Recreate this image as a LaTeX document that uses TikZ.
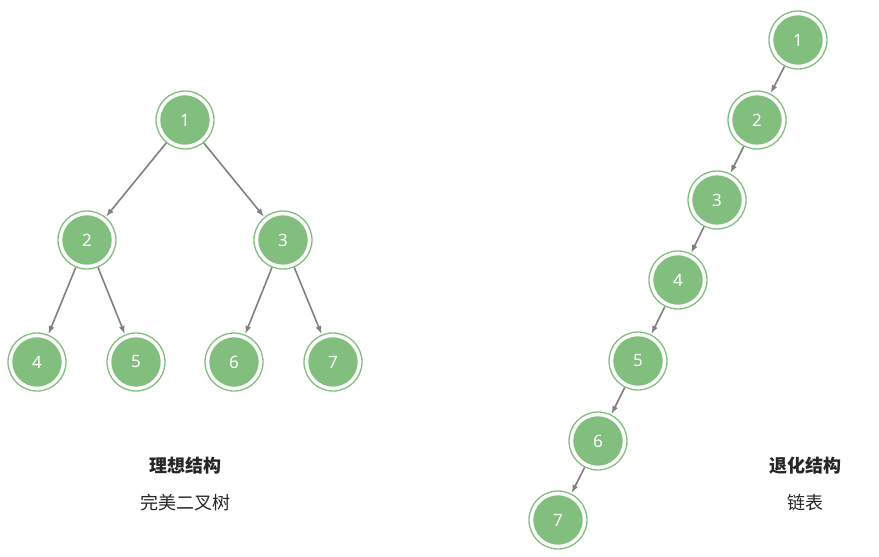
\documentclass[tikz,border=0pt]{standalone}
\usepackage{fontspec}
\setmainfont{Noto Sans}
\newfontfamily\cjk{Noto Sans CJK SC}
\definecolor{treegreen}{HTML}{82BE7E}
\definecolor{edgegray}{HTML}{808080}
\begin{document}
\begin{tikzpicture}[
        x=1pt, y=-1pt,
        treenode/.style={circle, fill=treegreen, draw=white, line width=2.5pt,
            minimum size=52pt, inner sep=0pt, text=white, font=\fontsize{17}{17}\selectfont},
        ring/.style={circle, draw=treegreen, line width=1.3pt, minimum size=58pt, inner sep=0pt},
        edge/.style={->, >=latex, draw=edgegray, line width=1.6pt, shorten >=1pt},
        caption/.style={font=\cjk\fontsize{18}{18}\selectfont, text=black!85}]
        \useasboundingbox (0,0) rectangle (879,557);
        % NODES
        % perfect binary tree
        \foreach \name/\px/\py in {a1/185/120, a2/87/240, a3/283/240, a4/37/362,
                a5/136/362, a6/234/362, a7/333/362,
                b1/798/40, b2/757/120, b3/717/200, b4/678/280,
                b5/638/361, b6/598/441, b7/558/520} {
            \node[ring] (\name) at (\px,\py) {};
        }
        \foreach \i in {1,...,7} {
            \node[treenode] at (a\i) {\i};
            \node[treenode] at (b\i) {\i};
        }
        % caption nodes
        \node[caption, font=\cjk\bfseries\fontsize{18}{18}\selectfont] (capA) at (185,466) {理想结构};
        \node[caption] (subA) at (185,503) {完美二叉树};
        \node[caption, font=\cjk\bfseries\fontsize{18}{18}\selectfont] (capB) at (805,466) {退化结构};
        \node[caption] (subB) at (805,503) {链表};
        % ARROWS
        \draw[edge] (a1)--(a2);
        \draw[edge] (a1)--(a3);
        \draw[edge] (a2)--(a4);
        \draw[edge] (a2)--(a5);
        \draw[edge] (a3)--(a6);
        \draw[edge] (a3)--(a7);
        \foreach \i/\j in {1/2,2/3,3/4,4/5,5/6,6/7}
            \draw[edge] (b\i)--(b\j);
\end{tikzpicture}
\end{document}
